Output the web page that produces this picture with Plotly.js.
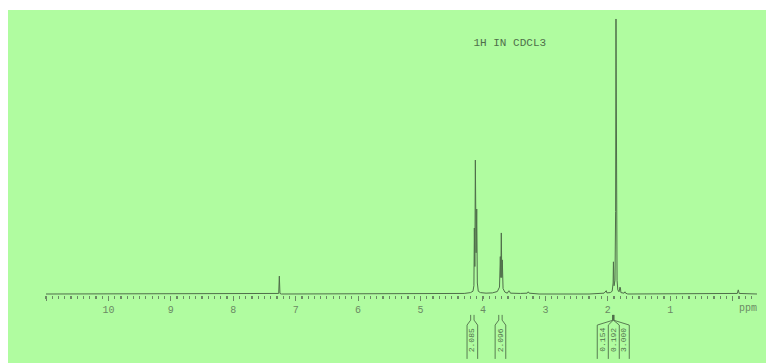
<!DOCTYPE html>
<html>
<head>
<meta charset="utf-8">
<script src="https://cdn.plot.ly/plotly-3.0.1.min.js"></script>
<style>
  html, body { margin: 0; padding: 0; background: #ffffff; width: 766px; height: 363px; overflow: hidden; }
  #chart { position: absolute; left: 8px; top: 10px; width: 758px; height: 353px; }
</style>
</head>
<body>
<div id="chart"></div>
<script>
// ---- data ----
// chemical shift (ppm) and relative intensity of the plotted spectrum trace
const shiftPpm = [11.0, 7.29, 7.272, 7.262, 7.252, 7.23, 4.45, 4.30, 4.20, 4.16, 4.145, 4.138, 4.13, 4.122, 4.11, 4.10, 4.09, 4.075, 4.04, 3.95, 3.85, 3.77, 3.735, 3.722, 3.714, 3.706, 3.698, 3.69, 3.678, 3.65, 3.61, 3.585, 3.575, 3.56, 3.40, 3.29, 3.275, 3.26, 3.10, 2.30, 2.06, 2.025, 2.015, 1.96, 1.93, 1.915, 1.91, 1.90, 1.885, 1.875, 1.869, 1.864, 1.859, 1.852, 1.84, 1.82, 1.805, 1.798, 1.79, 1.74, 1.725, 1.715, 1.68, 0.10, -0.075, -0.09, -0.105, -0.39];
const intensity = [0, 0, 0.2, 6.5, 0.2, 0, 0, 0.2, 0.5, 1.0, 3, 24, 10, 48.7, 15, 30.9, 4, 1.0, 0.5, 0.3, 0.4, 0.9, 2.5, 13.6, 6, 22.2, 6, 12.4, 2, 0.7, 0.3, 1.2, 1.0, 0.3, 0.2, 0.3, 0.8, 0.3, 0, 0, 0.3, 1.2, 0.4, 0.5, 1.0, 4, 11.7, 3, 5, 30, 100, 45, 57.8, 5, 1.5, 0.8, 2.5, 2.2, 0.5, 0.3, 0.8, 0.3, 0, 0, 0.2, 1.5, 0.2, 0];

// axis tick values and labels
const tickValues = [11, 10, 9, 8, 7, 6, 5, 4, 3, 2, 1, 0];
const tickLabels = ['', '10', '9', '8', '7', '6', '5', '4', '3', '2', '1', ''];

// integrals: label, ppm centre of the label box
const integralLabels = ['2.085', '2.096', '0.154', '0.192', '3.000'];
const integralCenters = [4.17, 3.72, 2.08, 1.90, 1.74];

const sampleTitle = '1H IN CDCL3';
const unitLabel = 'ppm';

// ---- styling ----
const BG = '#b0fca0';
const INK = '#4f6e4a';
const TICK = '#6b8a64';
const MONO = '"Liberation Mono", "DejaVu Sans Mono", monospace';

const trace = {
  x: shiftPpm,
  y: intensity,
  type: 'scatter',
  mode: 'lines',
  line: { color: INK, width: 1 },
  hoverinfo: 'skip'
};

// integral bracket geometry (layout, in axis units)
const yNeckTop = -7.6, yNeckBot = -9.5, yFlare = -11.3, yBottom = -23.6;
const neckHalf = 0.027, boxHalf = 0.085;
function bottle(c) {
  return 'M' + (c + neckHalf) + ',' + yNeckTop + ' L' + (c + neckHalf) + ',' + yNeckBot +
         ' L' + (c + boxHalf) + ',' + yFlare + ' L' + (c + boxHalf) + ',' + yBottom +
         ' M' + (c - neckHalf) + ',' + yNeckTop + ' L' + (c - neckHalf) + ',' + yNeckBot +
         ' L' + (c - boxHalf) + ',' + yFlare + ' L' + (c - boxHalf) + ',' + yBottom;
}
const shapes = [
  { type: 'path', xref: 'x', yref: 'y', path: bottle(integralCenters[0]), line: { color: INK, width: 0.9 } },
  { type: 'path', xref: 'x', yref: 'y', path: bottle(integralCenters[1]), line: { color: INK, width: 0.9 } }
];
// grouped bracket for the three integrals near 1.9 ppm
(function () {
  const neck = 1.912;
  const edges = [2.169, 1.992, 1.816, 1.656];
  let p = 'M' + neck + ',' + yNeckTop + ' L' + neck + ',' + yNeckBot;
  edges.forEach(function (e) {
    p += ' M' + neck + ',' + yNeckBot + ' L' + e + ',' + yFlare + ' L' + e + ',' + yBottom;
  });
  shapes.push({ type: 'path', xref: 'x', yref: 'y', path: p, line: { color: INK, width: 0.9 } });
  shapes.push({ type: 'line', xref: 'x', yref: 'y', x0: neck, x1: neck, y0: yNeckTop, y1: yNeckBot, line: { color: INK, width: 2.5 } });
})();

const annotations = integralLabels.map(function (t, i) {
  return {
    x: integralCenters[i], y: -16.7, xref: 'x', yref: 'y',
    text: t, showarrow: false, textangle: -90,
    font: { family: MONO, size: 8, color: INK },
    xanchor: 'center', yanchor: 'middle'
  };
});
annotations.push({
  x: -0.25, y: -5.3, xref: 'x', yref: 'y', text: unitLabel, showarrow: false,
  font: { family: MONO, size: 10, color: TICK }, xanchor: 'center', yanchor: 'middle'
});

const layout = {
  width: 758,
  height: 353,
  margin: { l: 38, r: 9, t: 5, b: 3 },
  paper_bgcolor: BG,
  plot_bgcolor: BG,
  showlegend: false,
  title: {
    text: sampleTitle,
    x: 0.662, xanchor: 'center', xref: 'container',
    y: 0.910, yanchor: 'middle', yref: 'container',
    font: { family: MONO, size: 11, color: INK }
  },
  xaxis: {
    range: [11.0, -0.39],
    anchor: 'free',
    position: 0.1884,
    showgrid: false,
    zeroline: false,
    showline: false,
    tickmode: 'array',
    tickvals: tickValues,
    ticktext: tickLabels,
    ticks: 'outside',
    ticklen: 5,
    tickwidth: 1,
    tickcolor: TICK,
    tickfont: { family: MONO, size: 10, color: TICK },
    minor: { tickmode: 'linear', tick0: 0, dtick: 0.1, ticks: 'outside', ticklen: 3, tickwidth: 1.2, tickcolor: TICK, showgrid: false },
    fixedrange: true
  },
  yaxis: {
    range: [-24, 101.45],
    visible: false,
    showgrid: false,
    zeroline: false,
    fixedrange: true
  },
  shapes: shapes,
  annotations: annotations
};

Plotly.newPlot('chart', [trace], layout, { displayModeBar: false, staticPlot: true });
</script>
</body>
</html>
